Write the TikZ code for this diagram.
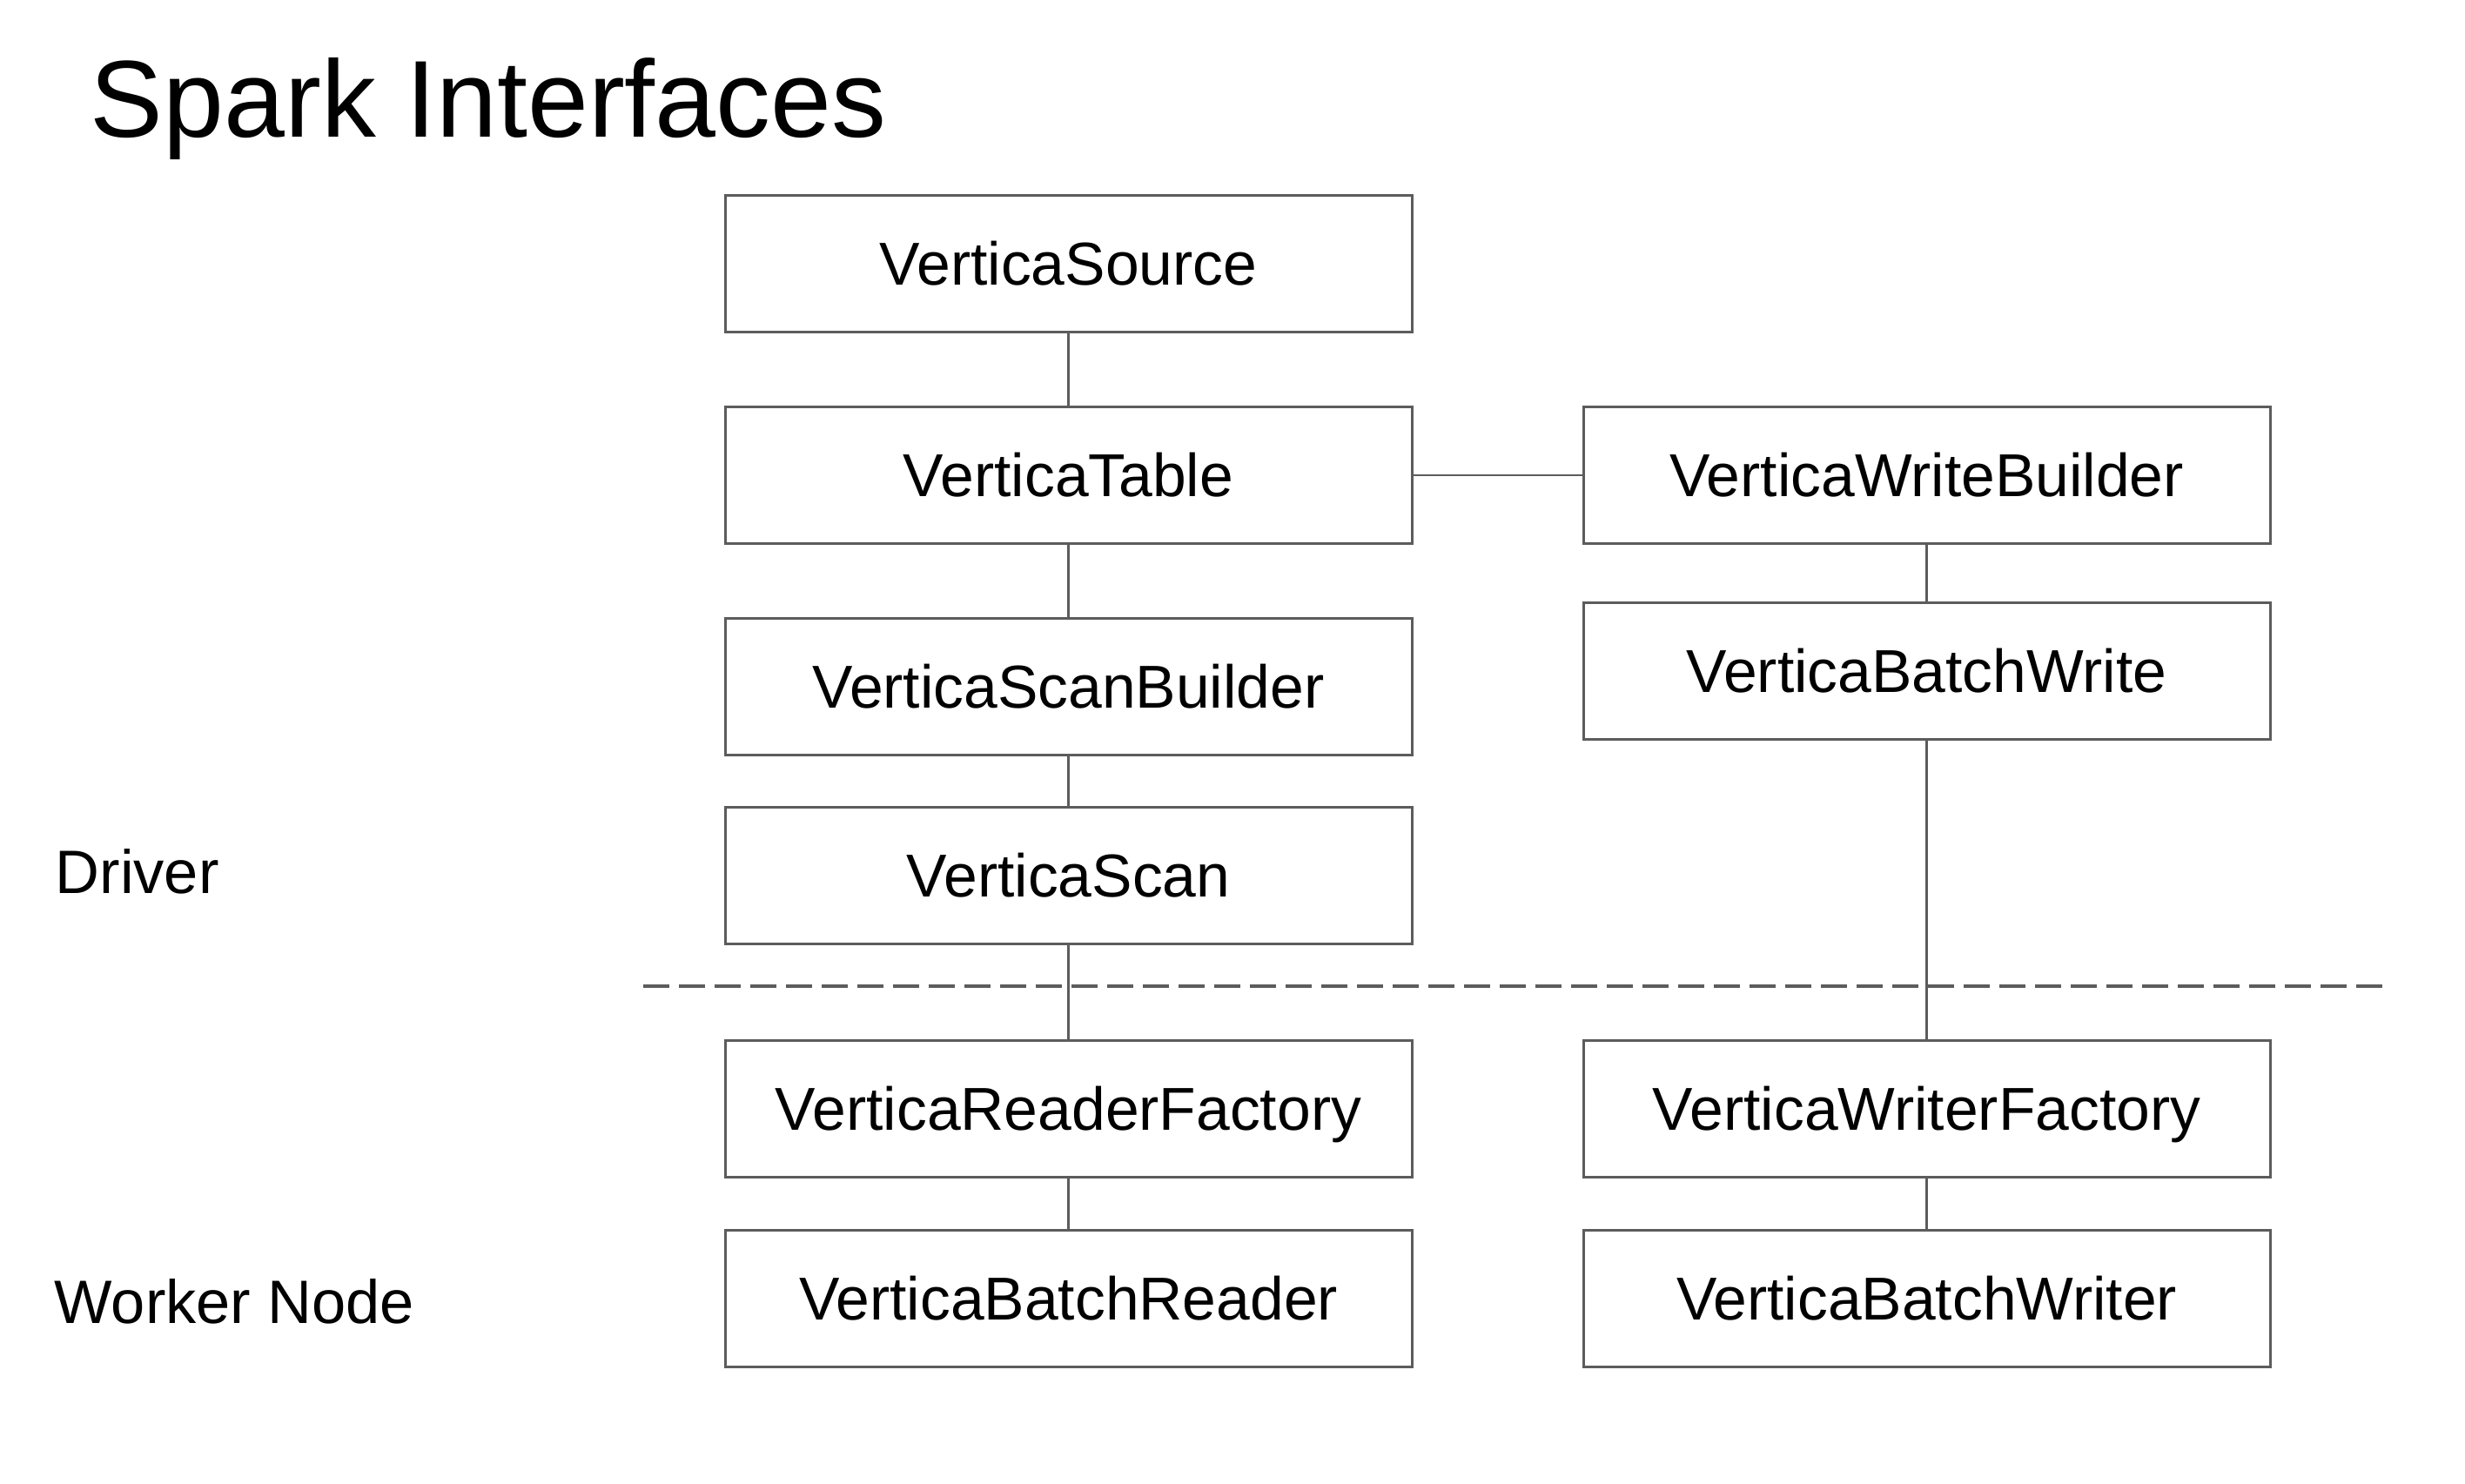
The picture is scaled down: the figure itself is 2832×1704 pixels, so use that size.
\documentclass[tikz,border=0pt]{standalone}
\usepackage{fontspec}
\setmainfont{Liberation Sans}
\definecolor{linegray}{RGB}{92,92,92}
\tikzset{
  cls/.style={draw=linegray, line width=0.75pt, rectangle, inner sep=0pt,
    minimum width=197.25pt, minimum height=39.25pt,
    font=\fontsize{17.4pt}{20pt}\selectfont, text height=12.45pt, text depth=0pt},
  conn/.style={draw=linegray, line width=0.6pt},
  sep/.style={draw=linegray, line width=1pt, dash pattern=on 7.5pt off 2.75pt},
  lbl/.style={anchor=base west, inner sep=0pt, font=\fontsize{17.6pt}{20pt}\selectfont},
  ttl/.style={anchor=base west, inner sep=0pt, font=\fontsize{31.4pt}{36pt}\selectfont}
}
\begin{document}
\begin{tikzpicture}[x=0.25pt, y=-0.25pt]
\useasboundingbox (0,0) rectangle (2832,1704);
\fill[white] (0,0) rectangle (2832,1704);
\node[ttl] (title) at (103,157) {Spark Interfaces};
\node[lbl] (driver) at (63,1026) {Driver};
\node[lbl] (worker) at (62,1520) {Worker Node};

\node[cls] (src) at (1227.5,302.5) {VerticaSource};
\node[cls] (tbl) at (1227.5,546) {VerticaTable};
\node[cls] (sb) at (1227.5,789) {VerticaScanBuilder};
\node[cls] (scan) at (1227.5,1006) {VerticaScan};
\node[cls] (rf) at (1227.5,1274) {VerticaReaderFactory};
\node[cls] (br) at (1227.5,1491.5) {VerticaBatchReader};

\node[cls] (wb) at (2213.5,546) {VerticaWriteBuilder};
\node[cls] (bw) at (2213.5,770.5) {VerticaBatchWrite};
\node[cls] (wf) at (2213.5,1274) {VerticaWriterFactory};
\node[cls] (bwr) at (2213.5,1491.5) {VerticaBatchWriter};

\coordinate (dl) at (739,1133);
\coordinate (dr) at (2737,1133);
\draw[sep] (dl) -- (dr);

\draw[conn] (src) -- (tbl);
\draw[conn] (tbl) -- (sb);
\draw[conn] (sb) -- (scan);
\draw[conn] (scan) -- (rf);
\draw[conn] (rf) -- (br);
\draw[conn] (tbl) -- (wb);
\draw[conn] (wb) -- (bw);
\draw[conn] (bw) -- (wf);
\draw[conn] (wf) -- (bwr);
\end{tikzpicture}
\end{document}
